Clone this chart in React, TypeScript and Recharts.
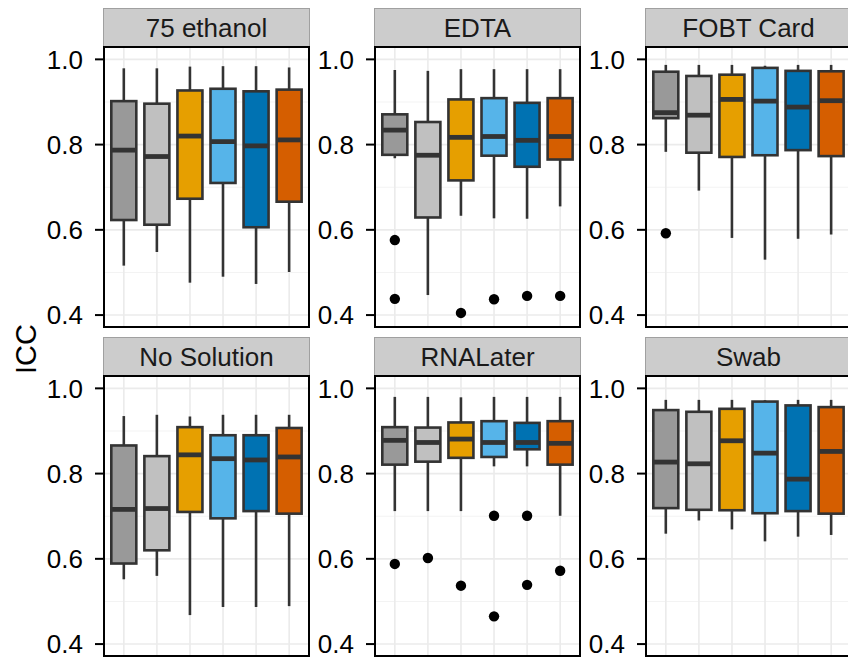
import React from 'react';
import { ComposedChart, Bar, Scatter, XAxis, YAxis, CartesianGrid, Cell } from 'recharts';

// ---------- data ----------
const facetNames = ['75 ethanol', 'EDTA', 'FOBT Card', 'No Solution', 'RNALater', 'Swab'];
const groupIds = [1, 2, 3, 4, 5, 6];
const boxFills = ['#999999', '#C0C0C0', '#E69F00', '#56B4E9', '#0072B2', '#D55E00'];
const yTicks = [0.4, 0.6, 0.8, 1.0];
const yMinorTicks = [0.5, 0.7, 0.9];
const yDomain: [number, number] = [0.372, 1.029];

// per group: [whiskerLow, Q1, median, Q3, whiskerHigh]
const ethanol75Stats = [
  [0.516, 0.623, 0.787, 0.902, 0.979],
  [0.548, 0.612, 0.772, 0.896, 0.979],
  [0.476, 0.673, 0.820, 0.927, 0.983],
  [0.490, 0.710, 0.807, 0.931, 0.984],
  [0.473, 0.606, 0.797, 0.925, 0.984],
  [0.501, 0.666, 0.811, 0.929, 0.981],
];
const edtaStats = [
  [0.768, 0.776, 0.834, 0.871, 0.975],
  [0.447, 0.629, 0.775, 0.853, 0.973],
  [0.633, 0.716, 0.817, 0.906, 0.977],
  [0.627, 0.774, 0.819, 0.909, 0.977],
  [0.626, 0.748, 0.810, 0.898, 0.977],
  [0.655, 0.765, 0.819, 0.909, 0.977],
];
const fobtStats = [
  [0.783, 0.862, 0.875, 0.971, 0.987],
  [0.692, 0.781, 0.869, 0.961, 0.987],
  [0.581, 0.771, 0.906, 0.964, 0.987],
  [0.530, 0.775, 0.902, 0.980, 0.985],
  [0.579, 0.787, 0.888, 0.973, 0.987],
  [0.589, 0.773, 0.903, 0.972, 0.987],
];
const noSolutionStats = [
  [0.552, 0.589, 0.716, 0.866, 0.935],
  [0.560, 0.620, 0.718, 0.841, 0.938],
  [0.468, 0.710, 0.844, 0.909, 0.934],
  [0.487, 0.695, 0.835, 0.890, 0.938],
  [0.487, 0.712, 0.832, 0.890, 0.938],
  [0.489, 0.706, 0.839, 0.907, 0.938],
];
const rnaLaterStats = [
  [0.712, 0.821, 0.878, 0.909, 0.980],
  [0.712, 0.828, 0.873, 0.908, 0.980],
  [0.712, 0.837, 0.881, 0.920, 0.979],
  [0.817, 0.839, 0.873, 0.923, 0.980],
  [0.817, 0.857, 0.873, 0.919, 0.980],
  [0.701, 0.821, 0.871, 0.923, 0.980],
];
const swabStats = [
  [0.659, 0.719, 0.827, 0.949, 0.973],
  [0.690, 0.715, 0.823, 0.945, 0.973],
  [0.669, 0.714, 0.877, 0.952, 0.973],
  [0.641, 0.707, 0.848, 0.969, 0.972],
  [0.652, 0.712, 0.787, 0.960, 0.973],
  [0.656, 0.706, 0.852, 0.956, 0.973],
];

// outliers: [group, value]
const ethanol75Outliers: [number, number][] = [];
const edtaOutliers: [number, number][] = [
  [1, 0.576], [1, 0.438], [3, 0.405], [4, 0.437], [5, 0.445], [6, 0.445],
];
const fobtOutliers: [number, number][] = [[1, 0.592]];
const noSolutionOutliers: [number, number][] = [];
const rnaLaterOutliers: [number, number][] = [
  [1, 0.588], [2, 0.602], [3, 0.537], [4, 0.701], [4, 0.465], [5, 0.701], [5, 0.539], [6, 0.572],
];
const swabOutliers: [number, number][] = [];

const facetStats = [ethanol75Stats, edtaStats, fobtStats, noSolutionStats, rnaLaterStats, swabStats];
const facetOutliers = [ethanol75Outliers, edtaOutliers, fobtOutliers, noSolutionOutliers, rnaLaterOutliers, swabOutliers];

// ---------- layout ----------
const FONT = '"Liberation Sans", Arial, Helvetica, sans-serif';
const colLeft = [104, 375, 646];
const rowTop = [47, 376];
const PANEL_W = 205;
const PANEL_H = 280;
const STRIP_H = 39;
const Y_W = 70;
const PAD = 20;
const LINE = '#333333';

function BoxShape(props: any) {
  const { x, y, width, height, fill, payload } = props;
  const q1 = payload.box[0];
  const q3 = payload.box[1];
  const top = Math.min(y, y + height);
  const h = Math.abs(height);
  const k = h / (q3 - q1);
  const py = (v: number) => top + (q3 - v) * k;
  const cx = x + width / 2;
  return (
    <g>
      <line x1={cx} x2={cx} y1={py(payload.hi)} y2={top} stroke={LINE} strokeWidth={2.6} />
      <line x1={cx} x2={cx} y1={top + h} y2={py(payload.lo)} stroke={LINE} strokeWidth={2.6} />
      <rect x={x} y={top} width={width} height={h} fill={fill} stroke={LINE} strokeWidth={2.6} />
      <line x1={x} x2={x + width} y1={py(payload.med)} y2={py(payload.med)} stroke={LINE} strokeWidth={4.8} />
    </g>
  );
}

function Dot(props: any) {
  const { cx, cy } = props;
  return <circle cx={cx} cy={cy} r={5.2} fill="#000" />;
}

function Facet({ idx }: { idx: number }) {
  const col = idx % 3;
  const row = Math.floor(idx / 3);
  const left = colLeft[col];
  const top = rowTop[row];
  const rows = facetStats[idx].map((s, i) => ({
    pos: groupIds[i],
    box: [s[1], s[3]],
    lo: s[0],
    med: s[2],
    hi: s[4],
  }));
  const outs = facetOutliers[idx].map(([g, v]) => ({ pos: g, v }));
  return (
    <>
      <div style={{ position: 'absolute', left: left - Y_W, top: top - PAD }}>
        <ComposedChart
          width={Y_W + PANEL_W}
          height={PANEL_H + 2 * PAD}
          data={rows}
          margin={{ top: PAD, right: 0, bottom: PAD, left: 0 }}
        >
          <CartesianGrid
            horizontalValues={yMinorTicks}
            vertical={false}
            stroke="#F3F3F3"
            strokeWidth={1}
          />
          <CartesianGrid stroke="#EBEBEB" strokeWidth={1.6} />
          <XAxis
            dataKey="pos"
            type="number"
            domain={[0.4, 6.6]}
            ticks={groupIds}
            allowDataOverflow
            hide
          />
          <YAxis
            type="number"
            domain={yDomain}
            ticks={yTicks}
            interval={0}
            allowDataOverflow
            width={Y_W}
            axisLine={false}
            tickSize={9}
            tickMargin={12}
            tickLine={{ stroke: '#000', strokeWidth: 2 }}
            tick={{ fontSize: 26, fill: '#000', fontFamily: FONT }}
            tickFormatter={(v: number) => v.toFixed(1)}
          />
          <Bar dataKey="box" barSize={25} shape={BoxShape} isAnimationActive={false}>
            {rows.map((r, i) => (
              <Cell key={i} fill={boxFills[i]} />
            ))}
          </Bar>
          {outs.length > 0 && (
            <Scatter data={outs} dataKey="v" shape={Dot} isAnimationActive={false} />
          )}
        </ComposedChart>
      </div>
      <div
        style={{
          position: 'absolute',
          left: left - 1,
          top: top - STRIP_H,
          width: PANEL_W + 2,
          height: STRIP_H + 1,
          boxSizing: 'border-box',
          background: '#CCCCCC',
          border: '1px solid #A0A0A0',
          fontFamily: FONT,
          fontSize: 26,
          color: '#1A1A1A',
          display: 'flex',
          alignItems: 'center',
          justifyContent: 'center',
          lineHeight: 1,
        }}
      >
        {facetNames[idx]}
      </div>
      <div
        style={{
          position: 'absolute',
          left: left - 1,
          top: top - 1,
          width: PANEL_W + 2,
          height: PANEL_H + 2,
          boxSizing: 'border-box',
          border: '2px solid #000',
          pointerEvents: 'none',
        }}
      />
    </>
  );
}

export default function App() {
  return (
    <div
      style={{
        position: 'absolute',
        left: 0,
        top: 0,
        width: 848,
        height: 658,
        overflow: 'hidden',
        background: '#fff',
      }}
    >
      {facetNames.map((_, i) => (
        <Facet key={i} idx={i} />
      ))}
      <div
        style={{
          position: 'absolute',
          left: 26,
          top: 349,
          transform: 'translate(-50%, -50%) rotate(-90deg)',
          fontFamily: FONT,
          fontSize: 29,
          color: '#000',
          whiteSpace: 'nowrap',
        }}
      >
        ICC
      </div>
    </div>
  );
}
